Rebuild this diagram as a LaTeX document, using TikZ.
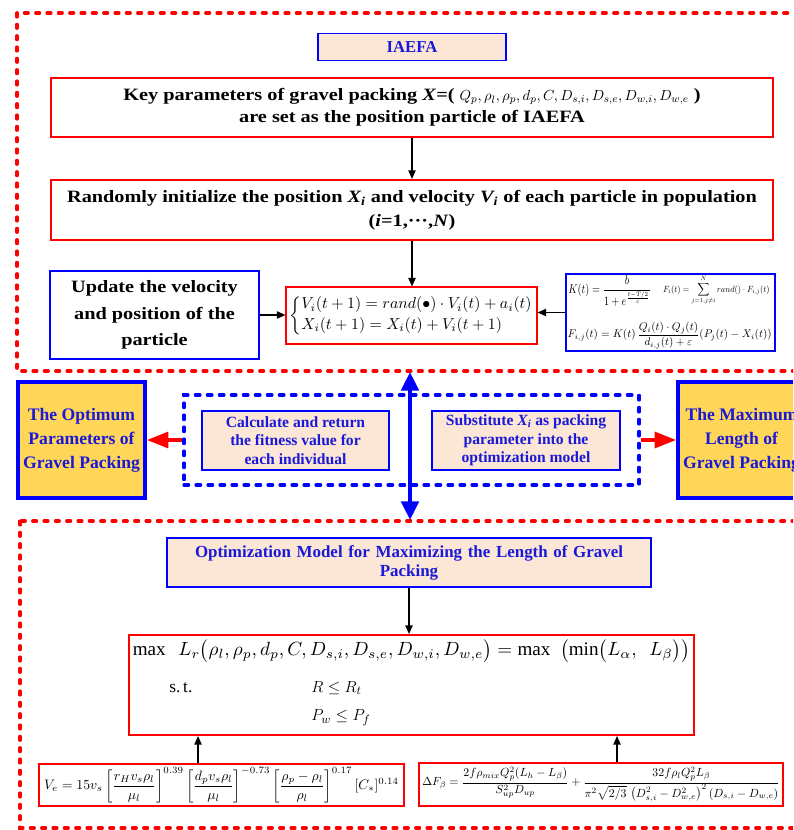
\documentclass[tikz,border=0pt]{standalone}
\usepackage{amsmath}
\usepackage{graphicx}
\usepackage{fontspec}
\setmainfont{Liberation Serif}
\newfontfamily\widefont{Liberation Serif}[FakeStretch=1.17]
\usetikzlibrary{arrows.meta}
\definecolor{rred}{RGB}{255,0,0}
\definecolor{bblue}{RGB}{0,0,255}
\definecolor{tblue}{RGB}{25,25,215}
\definecolor{peach}{RGB}{252,230,214}
\definecolor{gold}{RGB}{255,214,88}
\begin{document}
\begin{tikzpicture}[x=0.75pt,y=-0.75pt,
  redbox/.style={draw=rred, line width=1.5pt, fill=white, inner sep=0pt, align=center},
  thinred/.style={draw=rred, line width=0.8pt, fill=white, inner sep=0pt, align=center},
  bluebox/.style={draw=bblue, line width=1.1pt, fill=white, inner sep=0pt, align=center},
  peachbox/.style={draw=bblue, line width=0.8pt, fill=peach, text=tblue, inner sep=0pt, align=center},
  goldbox/.style={draw=bblue, line width=3pt, fill=gold, text=tblue, inner sep=0pt, align=center, font=\fontsize{13.2}{18}\selectfont\bfseries},
  arr/.style={-{Triangle[length=6.5pt,width=5.5pt]}, line width=1.1pt, black},
  redarr/.style={-{Triangle[length=16pt,width=12pt]}, line width=2.3pt, rred},
  bluedarr/.style={{Triangle[length=14pt,width=13pt]}-{Triangle[length=14pt,width=13pt]}, line width=3pt, bblue},
  framered/.style={draw=rred, line width=2.3pt, dash pattern=on 3pt off 5.5pt, line cap=round},
  frameblue/.style={draw=bblue, line width=2.3pt, dash pattern=on 3.5pt off 5.5pt, line cap=round}]
\useasboundingbox (0,0) rectangle (793,830);
\clip (0,0) rectangle (793,830);

% frames
\draw[framered] (17,13) rectangle (815,371);
\draw[framered] (20,521) rectangle (815,828);

% top section
\node[peachbox, minimum width=141pt, minimum height=20pt, font=\fontsize{12.5}{14}\selectfont\bfseries] (iaefa) at (412,47) {IAEFA};

\node[redbox, minimum width=541.5pt, minimum height=44.25pt, font=\fontsize{13}{16.5}\widefont\bfseries] (key) at (412,107.5)
  {Key parameters of gravel packing \textit{X}=( {\fontsize{11}{13}\selectfont$Q_p, \rho_l, \rho_p, d_p, C, D_{s,i}, D_{s,e}, D_{w,i}, D_{w,e}$} )\\ are set as the position particle of IAEFA};

\node[redbox, minimum width=541.5pt, minimum height=45pt, font=\fontsize{13}{18}\widefont\bfseries] (rand) at (412,210)
  {Randomly initialize the position \textit{X\textsubscript{i}} and velocity \textit{V\textsubscript{i}} of each particle in population\\ (\textit{i}=1,···,\textit{N})};

\node[bluebox, minimum width=156.75pt, minimum height=66pt, font=\fontsize{13}{20}\widefont\bfseries] (upd) at (154.5,315)
  {Update the velocity\\ and position of the\\ particle};

\node[thinred, minimum width=188.25pt, minimum height=42.75pt] (eq) at (411.5,315.5)
  {\resizebox{183pt}{!}{$\left\{\begin{array}{@{}l@{}} V_i(t+1) = rand(\bullet)\cdot V_i(t)+a_i(t)\\[1pt] X_i(t+1)=X_i(t)+V_i(t+1)\end{array}\right.$}};

\node[bluebox, line width=0.9pt, minimum width=156.75pt, minimum height=57.75pt] (kbox) at (670.5,312.5) {};
\node[inner sep=0pt, anchor=north west] (k1) at ([xshift=2pt,yshift=-1.5pt]kbox.north west)
  {\resizebox*{62pt}{23pt}{$K(t)=\dfrac{b}{1+e^{\frac{t-T/2}{c}}}$}};
\node[inner sep=0pt, anchor=north west] (k1b) at ([xshift=73pt,yshift=-1.5pt]kbox.north west)
  {\resizebox*{80pt}{22pt}{$\displaystyle F_i(t)=\sum_{j=1,j\neq i}^{N} rand()\cdot F_{i,j}(t)$}};
\node[inner sep=0pt, anchor=south west] (k2) at ([xshift=1.5pt,yshift=2pt]kbox.south west)
  {\resizebox{153pt}{!}{$F_{i,j}(t)=K(t)\,\dfrac{Q_i(t)\cdot Q_j(t)}{d_{i,j}(t)+\varepsilon}(P_j(t)-X_i(t))$}};

\draw[arr] (key.south) -- (rand.north);
\draw[arr] (rand.south) -- (rand.south |- eq.north);
\draw[arr] (upd.east) -- (upd.east -| eq.west);
\draw[arr] (kbox.west) -- (kbox.west -| eq.east);

% middle section
\node[goldbox, minimum width=95.25pt, minimum height=87pt] (optp) at (81.5,440)
  {The Optimum\\ Parameters of\\ Gravel Packing};
\node[goldbox, minimum width=95.25pt, minimum height=87pt] (maxl) at (741.5,440)
  {The Maximum\\ Length of\\ Gravel Packing};
\node[frameblue, minimum width=341.25pt, minimum height=67.5pt] (dbox) at (411.5,440) {};
\node[peachbox, minimum width=140.25pt, minimum height=44.25pt, font=\fontsize{11.7}{14}\selectfont\bfseries] (calc) at (295.5,440.5)
  {Calculate and return\\ the fitness value for\\ each individual};
\node[peachbox, minimum width=141pt, minimum height=44.25pt, font=\fontsize{11.7}{14}\selectfont\bfseries] (subst) at (526,440.5)
  {Substitute \textit{X\textsubscript{i}} as packing\\ parameter into the\\ optimization model};

\draw[redarr] (dbox.west) -- (dbox.west -| optp.east);
\draw[redarr] (dbox.east) -- (dbox.east -| maxl.west);

\coordinate (dtop) at (410,372);
\coordinate (dbot) at (410,520);
\draw[bluedarr] (dtop) -- (dbot);

% bottom section
\node[peachbox, minimum width=363pt, minimum height=36.75pt, text width=355pt, font=\fontsize{12.7}{14.3}\selectfont\bfseries] (opt) at (409,562.5)
  {Optimization Model for Maximizing the Length of Gravel\\ Packing};

\node[redbox, minimum width=423.75pt, minimum height=75pt] (maxb) at (411.5,685) {};
\node[inner sep=0pt] (obj) at (411.5,651)
  {\resizebox{418pt}{!}{$\max\ \ L_r\bigl(\rho_l,\rho_p,d_p,C,D_{s,i},D_{s,e},D_{w,i},D_{w,e}\bigr)=\max\ \ \bigl(\min\bigl(L_\alpha,\ \ L_\beta\bigr)\bigr)$}};
\node[inner sep=0pt, anchor=west, font=\fontsize{13}{15}\selectfont] (st) at (169,688) {s.\,t.};
\node[inner sep=0pt, anchor=west, font=\fontsize{13}{15}\selectfont] (c1) at (311,688) {$R\le R_t$};
\node[inner sep=0pt, anchor=west, font=\fontsize{13}{15}\selectfont] (c2) at (311,718) {$P_w\le P_f$};

\node[thinred, minimum width=273.75pt, minimum height=31.5pt] (ve) at (221.5,785)
  {\resizebox{266pt}{!}{$V_e = 15v_s\left[\dfrac{r_H v_s\rho_l}{\mu_l}\right]^{0.39}\left[\dfrac{d_p v_s \rho_l}{\mu_l}\right]^{-0.73}\left[\dfrac{\rho_p-\rho_l}{\rho_l}\right]^{0.17}[C_*]^{0.14}$}};
\node[thinred, minimum width=273pt, minimum height=32.25pt] (df) at (601,784.5)
  {\resizebox{268pt}{!}{$\Delta F_\beta = \dfrac{2f\rho_{mix}Q_p^2(L_h-L_\beta)}{S_{up}^2 D_{up}} + \dfrac{32 f\rho_l Q_p^2 L_\beta}{\pi^2\sqrt{2/3}\,\left(D_{s,i}^2-D_{w,e}^2\right)^2(D_{s,i}-D_{w,e})}$}};

\draw[arr] (opt.south) -- (opt.south |- maxb.north);
\draw[arr] ([xshift=-17.6pt]ve.north) -- ([xshift=-17.6pt]ve.north |- maxb.south);
\draw[arr] ([xshift=12pt]df.north) -- ([xshift=12pt]df.north |- maxb.south);
\end{tikzpicture}
\end{document}
